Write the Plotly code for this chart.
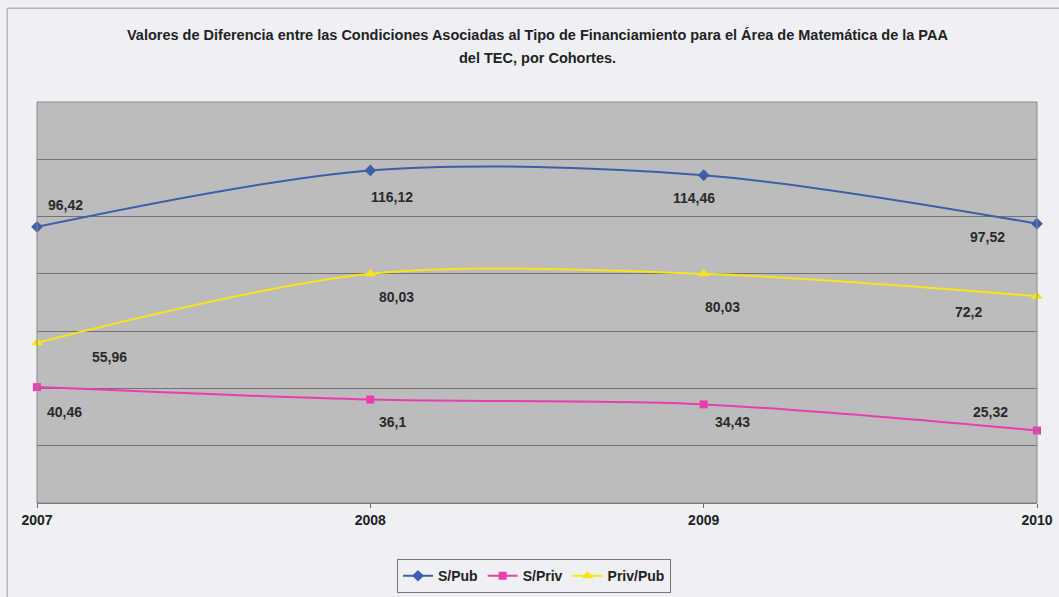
import plotly.graph_objects as go

# Cohort years and difference values per financing condition
years = [2007, 2008, 2009, 2010]
s_pub = [96.42, 116.12, 114.46, 97.52]
s_priv = [40.46, 36.1, 34.43, 25.32]
priv_pub = [55.96, 80.03, 80.03, 72.2]

series_names = ["S/Pub", "S/Priv", "Priv/Pub"]
title_lines = [
    "Valores de Diferencia entre las Condiciones Asociadas al Tipo de "
    "Financiamiento para el Área de Matemática de la PAA",
    "del TEC, por Cohortes.",
]

FONT = "Liberation Sans, Arial, sans-serif"

styles = [
    dict(color="#3d5ea8", symbol="diamond", size=9),
    dict(color="#e83fb0", symbol="square", size=8),
    dict(color="#f7e51a", symbol="triangle-up", size=10),
]

# label offsets (px) per series, per point
offsets = [
    [(28, 22), (22, -27), (-10, -23), (-50, -13)],
    [(27, -25), (22, -22), (29, -18), (-47, 18)],
    [(72, -14), (26, -23), (19, -33), (-69, -16)],
]

fig = go.Figure()
data_sets = [s_pub, s_priv, priv_pub]
for name, vals, st in zip(series_names, data_sets, styles):
    fig.add_trace(go.Scatter(
        x=years, y=vals, name=name, mode="lines+markers",
        line=dict(color=st["color"], width=2, shape="spline", smoothing=0.9),
        marker=dict(color=st["color"], symbol=st["symbol"], size=st["size"]),
        cliponaxis=False,
    ))

annotations = []
for vals, offs in zip(data_sets, offsets):
    for x, v, (dx, dy) in zip(years, vals, offs):
        annotations.append(dict(
            x=x, y=v, xref="x", yref="y", text=f"{v:g}".replace(".", ","),
            showarrow=False, xshift=dx, yshift=dy,
            font=dict(family=FONT, size=14, color="#2a2a2a", weight="bold"),
        ))

# two-line chart title
for line, ypos in zip(title_lines, [1.167, 1.110]):
    annotations.append(dict(
        x=0.5, y=ypos, xref="paper", yref="paper", text=line, showarrow=False,
        xanchor="center", yanchor="middle",
        font=dict(family=FONT, size=14.5, color="#222222", weight="bold"),
    ))

fig.update_layout(
    width=1059, height=597,
    margin=dict(l=37, r=22, t=102, b=94, autoexpand=False),
    paper_bgcolor="#eef0f4",
    plot_bgcolor="#bcbcbc",
    xaxis=dict(range=[2007, 2010], tickvals=years, ticktext=[str(y) for y in years],
               showgrid=False, zeroline=False, showline=True, linecolor="#6a6a6a",
               linewidth=1, ticks="outside", ticklen=4, tickcolor="#6a6a6a",
               tickfont=dict(family=FONT, size=14, color="#222222", weight="bold")),
    yaxis=dict(range=[0, 140], dtick=20, showticklabels=False, showgrid=True,
               gridcolor="#737373", gridwidth=1, zeroline=False, showline=False),
    legend=dict(orientation="h", x=0.497, xanchor="center", y=-0.14, yanchor="top",
                bgcolor="rgba(0,0,0,0)", bordercolor="#777777", borderwidth=1,
                font=dict(family=FONT, size=14, color="#222222", weight="bold"),
                itemwidth=30, tracegroupgap=0),
    annotations=annotations,
    showlegend=True,
    shapes=[
        # plot area frame
        dict(type="rect", xref="paper", yref="paper", x0=0, x1=1, y0=0, y1=1,
             line=dict(color="#8a8a8a", width=1), layer="above"),
        # outer chart border (left and top)
        dict(type="line", xref="paper", yref="paper", x0=-0.0298, x1=-0.0298,
             y0=-0.3, y1=1.234, line=dict(color="#9a9a9a", width=1)),
        dict(type="line", xref="paper", yref="paper", x0=-0.0298, x1=1.05,
             y0=1.234, y1=1.234, line=dict(color="#9a9a9a", width=1)),
    ],
)

fig.write_html("out.html")
